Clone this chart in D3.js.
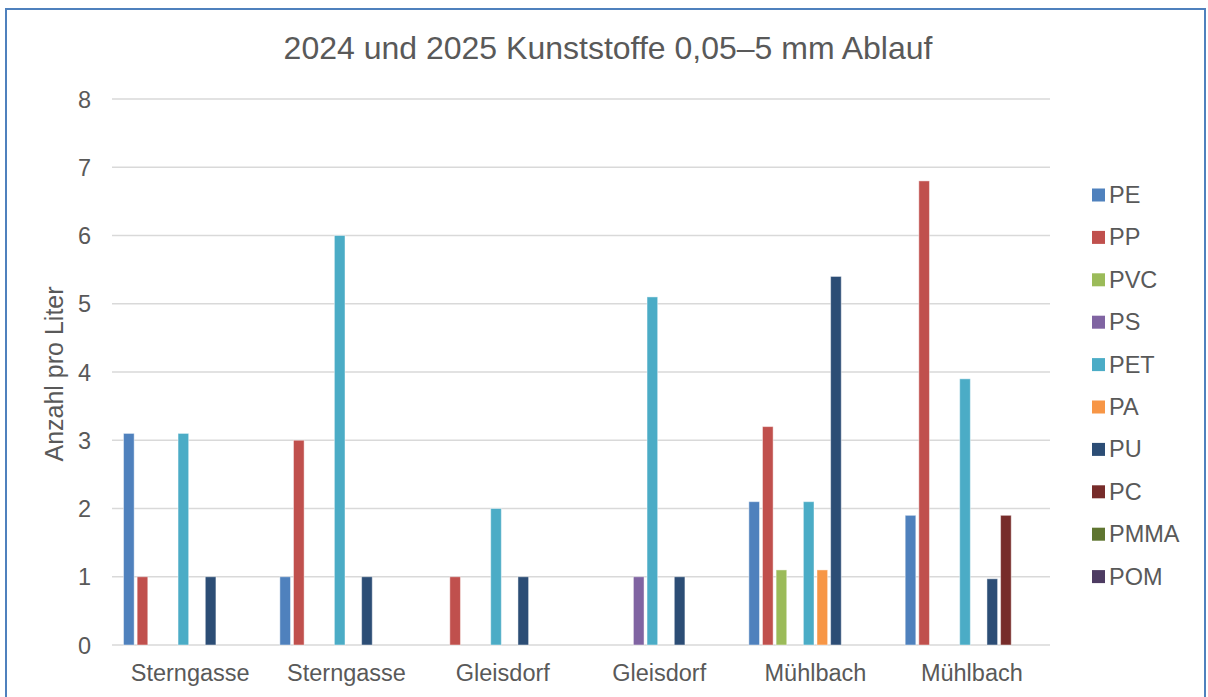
<!DOCTYPE html>
<html><head><meta charset="utf-8">
<script src="https://cdn.jsdelivr.net/npm/d3@7"></script>
<style>body{margin:0;background:#fff}svg{display:block}text{font-family:Arial,"Liberation Sans",sans-serif;fill:#595959}</style>
</head><body><svg id="c" width="1208" height="697"></svg>
<script>
const categories = ["Sterngasse","Sterngasse","Gleisdorf","Gleisdorf","Mühlbach","Mühlbach"];
const series = ["PE","PP","PVC","PS","PET","PA","PU","PC","PMMA","POM"];
const colors = ["#4f81bd","#c0504d","#9bbb59","#8064a2","#4bacc6","#f79646","#2c4d75","#772c2a","#5f7530","#4d3b62"];
const PE   = [3.1, 1,   0, 0, 2.1, 1.9];
const PP   = [1,   3,   1, 0, 3.2, 6.8];
const PVC  = [0,   0,   0, 0, 1.1, 0];
const PS   = [0,   0,   0, 1, 0,   0];
const PET  = [3.1, 6,   2, 5.1, 2.1, 3.9];
const PA   = [0,   0,   0, 0, 1.1, 0];
const PU   = [1,   1,   1, 1, 5.4, 0.97];
const PC   = [0,   0,   0, 0, 0,   1.9];
const PMMA = [0,   0,   0, 0, 0,   0];
const POM  = [0,   0,   0, 0, 0,   0];
const yTicks = [0,1,2,3,4,5,6,7,8];
const values = [PE,PP,PVC,PS,PET,PA,PU,PC,PMMA,POM];

const svg = d3.select("#c");
svg.append("rect").attr("x",6).attr("y",9).attr("width",1199).attr("height",720)
  .attr("fill","#fff").attr("stroke","#4f81bd").attr("stroke-width",2);

const L=112, R=1050, T=99, B=645;
const y = d3.scaleLinear().domain([0,8]).range([B,T]);
const x0 = d3.scaleBand().domain(d3.range(categories.length)).range([L,R]).paddingInner(0.13).paddingOuter(0.065);
const x1 = d3.scaleBand().domain(d3.range(series.length)).range([0,x0.bandwidth()]).paddingInner(0.22).paddingOuter(0.1);

svg.append("g").selectAll("line").data(yTicks).join("line")
  .attr("x1",L).attr("x2",R).attr("y1",d=>y(d)).attr("y2",d=>y(d))
  .attr("stroke","#d9d9d9").attr("stroke-width",1.5);

svg.append("g").selectAll("text").data(yTicks).join("text")
  .attr("x",91).attr("y",d=>y(d)+8.5).attr("text-anchor","end").attr("font-size",23.5).text(d=>d);

const g = svg.append("g");
categories.forEach((c,ci)=>{
  series.forEach((s,si)=>{
    const v = values[si][ci];
    if(!v) return;
    g.append("rect").attr("x",x0(ci)+x1(si)).attr("width",x1.bandwidth())
      .attr("y",y(v)).attr("height",y(0)-y(v)).attr("fill",colors[si])
      .attr("stroke","#ffffff").attr("stroke-opacity",0.45).attr("stroke-width",1);
  });
});

svg.append("g").selectAll("text").data(categories).join("text")
  .attr("x",(d,i)=>x0(i)+x0.bandwidth()/2).attr("y",681).attr("text-anchor","middle")
  .attr("font-size",23.5).text(d=>d);

svg.append("text").attr("x",608).attr("y",59).attr("text-anchor","middle").attr("font-size",32)
  .text("2024 und 2025 Kunststoffe 0,05–5 mm Ablauf");

svg.append("text").attr("transform","translate(63,374) rotate(-90)").attr("text-anchor","middle")
  .attr("font-size",25).text("Anzahl pro Liter");

const lg = svg.append("g");
series.forEach((s,i)=>{
  const cy = 195 + i*42.4;
  lg.append("rect").attr("x",1092).attr("y",cy-6.5).attr("width",13).attr("height",13).attr("fill",colors[i]);
  lg.append("text").attr("x",1109).attr("y",cy+8).attr("font-size",23.5).text(s);
});
</script></body></html>
